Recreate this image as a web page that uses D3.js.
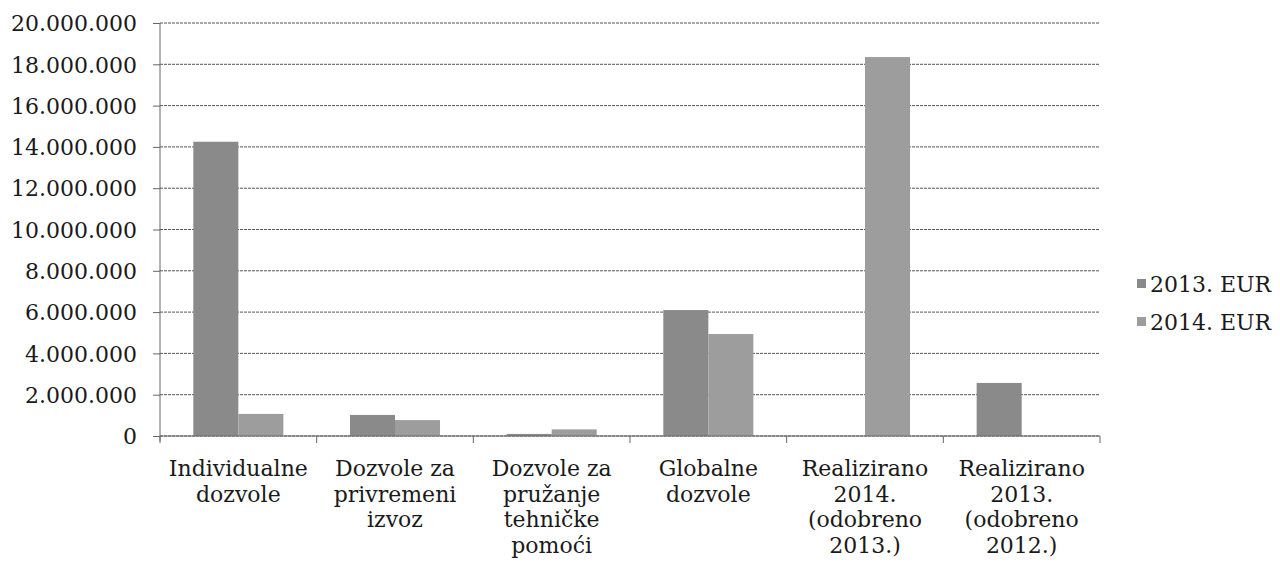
<!DOCTYPE html>
<html>
<head>
<meta charset="utf-8">
<script src="https://cdn.jsdelivr.net/npm/d3@7/dist/d3.min.js"></script>
<style>
  body { margin: 0; background: #fff; }
  text { font-family: "DejaVu Serif", "Liberation Serif", serif; fill: #1a1a1a; }
</style>
</head>
<body>
<svg id="chart" width="1280" height="571"></svg>
<script>
// categories, one label line per array entry
var categories = [
  ["Individualne", "dozvole"],
  ["Dozvole za", "privremeni", "izvoz"],
  ["Dozvole za", "pružanje", "tehničke", "pomoći"],
  ["Globalne", "dozvole"],
  ["Realizirano", "2014.", "(odobreno", "2013.)"],
  ["Realizirano", "2013.", "(odobreno", "2012.)"]
]
var seriesNames = ["2013. EUR", "2014. EUR"]
var values2013 = [14250000, 1020000, 100000, 6100000, 0, 2570000]
var values2014 = [1070000, 770000, 320000, 4940000, 18350000, 0]
var yTicks = [0, 2000000, 4000000, 6000000, 8000000, 10000000, 12000000, 14000000, 16000000, 18000000, 20000000]
var colors = ["#8a8a8a", "#9d9d9d"]

var plotL = 160, plotR = 1100, plotT = 23, plotB = 436

var svg = d3.select("#chart")
var hr = d3.formatLocale({decimal: ",", thousands: ".", grouping: [3], currency: ["", ""]})
var fmt = hr.format(",")

var x0 = d3.scaleBand().domain(d3.range(categories.length)).range([plotL, plotR]).paddingInner(0).paddingOuter(0)
var x1 = d3.scaleBand().domain(seriesNames).range([0, x0.bandwidth()]).paddingInner(0).paddingOuter(0.74)
var y = d3.scaleLinear().domain([0, 20000000]).range([plotB, plotT])

// grid
svg.append("g").selectAll("line").data(yTicks).enter().append("line")
  .attr("x1", plotL).attr("x2", plotR)
  .attr("y1", d => y(d)).attr("y2", d => y(d))
  .style("stroke", "#555").style("stroke-width", 1).style("stroke-dasharray", "3,1")

// bars
var rows = categories.map((c, i) => ({i: i, vals: [values2013[i], values2014[i]]}))
var groups = svg.append("g").selectAll("g").data(rows).enter().append("g")
  .attr("transform", d => "translate(" + x0(d.i) + ",0)")
groups.selectAll("rect").data(d => d.vals.map((v, k) => ({k: k, v: v}))).enter()
  .filter(d => d.v > 0)
  .append("rect")
  .attr("x", d => x1(seriesNames[d.k]))
  .attr("width", x1.bandwidth())
  .attr("y", d => y(d.v))
  .attr("height", d => y(0) - y(d.v))
  .style("fill", d => colors[d.k])

// y axis
var yAxis = d3.axisLeft(y).tickValues(yTicks).tickFormat(fmt).tickSize(7).tickPadding(16)
var ya = svg.append("g").attr("transform", "translate(" + plotL + ",0)").call(yAxis)
ya.select(".domain").attr("d", "M0," + plotT + "V" + (plotB + 5)).style("stroke", "#666")
ya.selectAll(".tick line").style("stroke", "#666")
ya.selectAll(".tick text").style("font-size", "22px").style("font-family", "DejaVu Serif").attr("dy", "0.35em").style("fill", "#1a1a1a")

// x axis with boundary ticks
var xa = svg.append("g")
xa.append("line").attr("x1", plotL).attr("x2", plotR).attr("y1", plotB).attr("y2", plotB)
  .style("stroke", "#666")
xa.selectAll("line.tk").data(d3.range(categories.length + 1)).enter().append("line")
  .attr("class", "tk")
  .attr("x1", d => plotL + d * x0.step()).attr("x2", d => plotL + d * x0.step())
  .attr("y1", plotB).attr("y2", plotB + 7)
  .style("stroke", "#666")
var lbl = xa.selectAll("text").data(categories).enter().append("text")
  .attr("text-anchor", "middle")
  .attr("x", (d, i) => x0(i) + x0.bandwidth() / 2)
  .attr("y", 476)
  .style("font-size", "22px")
lbl.selectAll("tspan").data(d => d).enter().append("tspan")
  .attr("x", function() { return d3.select(this.parentNode).attr("x") })
  .attr("dy", (d, i) => i === 0 ? 0 : 25.5)
  .text(d => d)

// legend
var lg = svg.append("g").selectAll("g").data(seriesNames).enter().append("g")
  .attr("transform", (d, i) => "translate(1137," + (284 + i * 38) + ")")
lg.append("rect").attr("x", 0).attr("y", -5).attr("width", 9).attr("height", 9)
  .style("fill", (d, i) => colors[i])
lg.append("text").attr("x", 13).attr("dy", "0.35em").style("font-size", "22px").text(d => d)
</script>
</body>
</html>
